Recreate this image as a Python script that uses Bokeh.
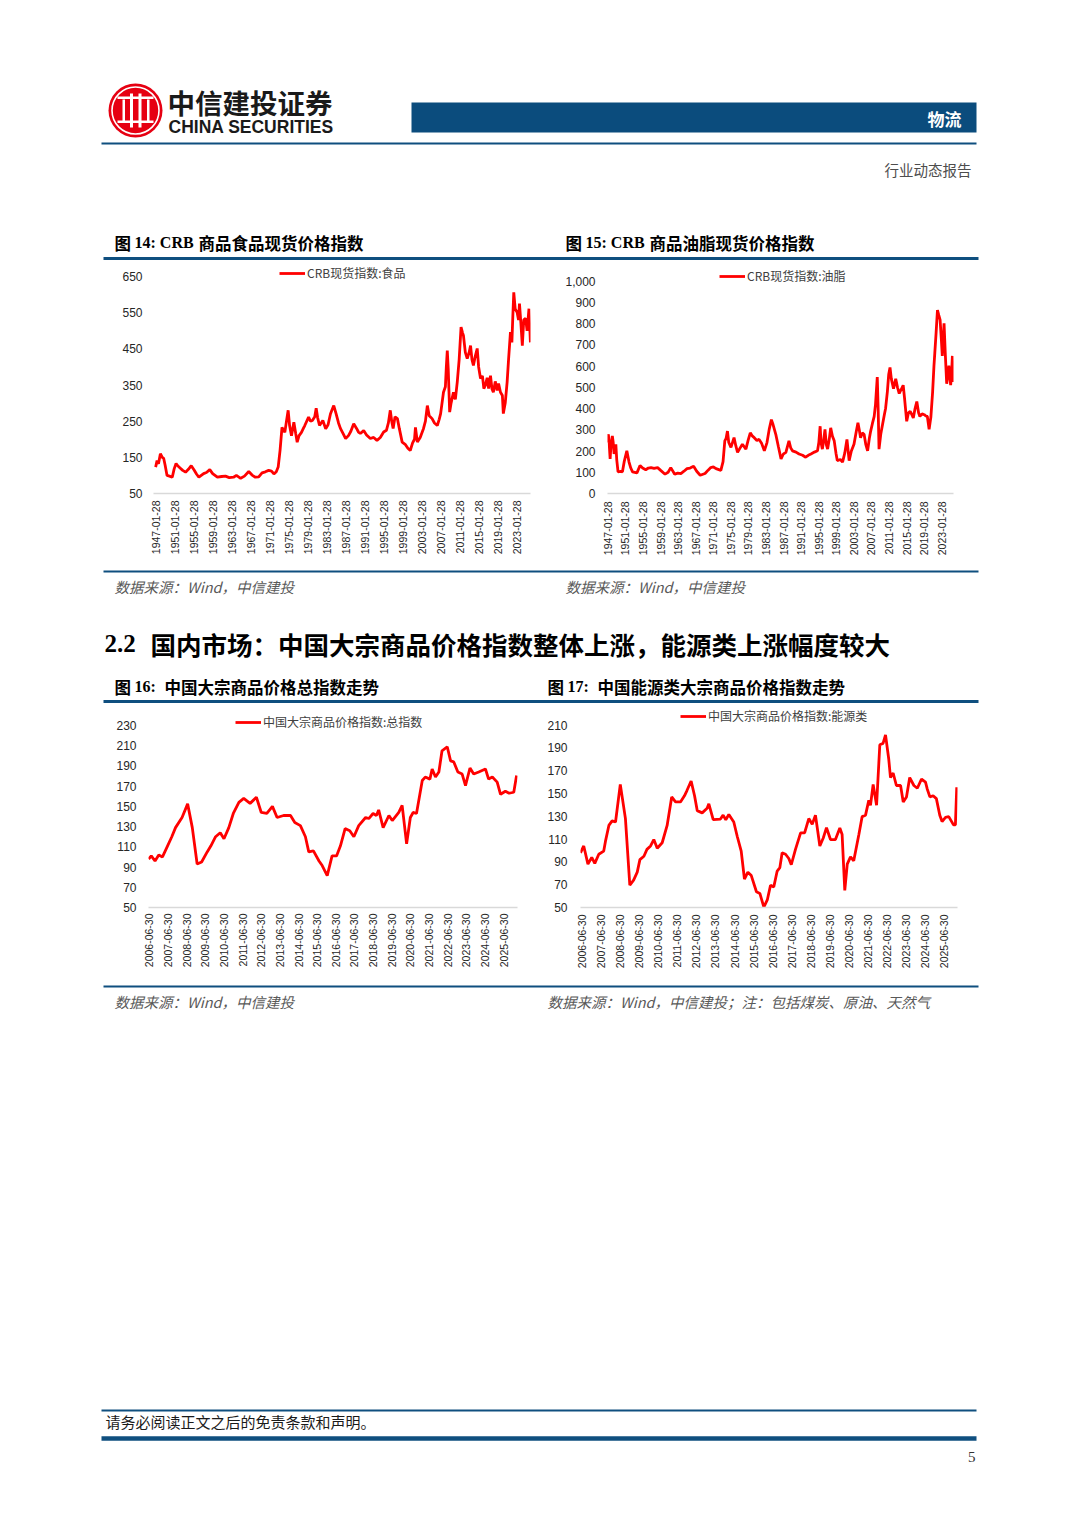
import math
from bokeh.plotting import figure
from bokeh.models import Range1d, FixedTicker, NumeralTickFormatter, Legend, LegendItem, ColumnDataSource
from bokeh.layouts import column, row
from bokeh.core.properties import value
from bokeh.embed import file_html
from bokeh.resources import INLINE

# ---------------- data ----------------
food_year = [1946.9, 1947.2, 1947.5, 1947.9, 1948.3, 1948.6, 1948.9, 1949.3, 1949.8, 1950.4, 1950.8, 1951.2,
             1951.6, 1952.1, 1952.6, 1953.2, 1953.8, 1954.4, 1955.0, 1955.5, 1956.0, 1956.5, 1957.0, 1957.6,
             1958.3, 1958.9, 1959.9, 1960.8, 1961.6, 1962.4, 1963.3, 1963.9, 1964.8, 1965.6, 1966.5, 1967.2,
             1967.9, 1968.6, 1969.3, 1970.0, 1970.7, 1971.3, 1971.8, 1972.3, 1972.7, 1973.1, 1973.5, 1973.8,
             1974.1, 1974.5, 1974.8, 1975.1, 1975.5, 1976.0, 1976.4, 1976.7, 1977.1, 1977.6, 1978.0, 1978.3,
             1979.1, 1979.5, 1979.9, 1980.4, 1980.7, 1981.0, 1981.4, 1982.1, 1982.7, 1983.2, 1983.7, 1984.0,
             1984.4, 1984.9, 1985.4, 1985.8, 1986.4, 1986.9, 1987.5, 1988.0, 1988.6, 1989.2, 1989.6, 1990.0,
             1990.7, 1991.3, 1992.1, 1992.8, 1993.5, 1994.2, 1994.9, 1995.5, 1995.9, 1996.3, 1996.6, 1996.9,
             1997.3, 1997.8, 1998.2, 1998.8, 1999.5, 2000.0, 2000.5, 2001.0, 2001.4, 2001.6, 2002.0, 2002.6,
             2003.3, 2003.7, 2004.1, 2004.5, 2005.1, 2005.6, 2006.2, 2006.6, 2006.9, 2007.5, 2007.9, 2008.1,
             2008.3, 2008.5, 2008.8, 2009.1, 2009.6, 2010.0, 2010.4, 2010.8, 2011.2, 2011.5, 2011.7, 2012.1,
             2012.5, 2012.9, 2013.2, 2013.5, 2013.8, 2014.2, 2014.6, 2014.9, 2015.3, 2015.7, 2016.0, 2016.3,
             2016.7, 2017.0, 2017.4, 2017.7, 2018.0, 2018.4, 2018.8, 2019.1, 2019.5, 2019.9, 2020.1, 2020.5,
             2020.9, 2021.2, 2021.6, 2021.9, 2022.1, 2022.3, 2022.6, 2023.0, 2023.3, 2023.5, 2023.8, 2024.1,
             2024.4, 2024.8, 2025.1, 2025.5, 2025.8]
food_value = [123, 141, 132, 160, 150, 147, 128, 100, 98, 95, 118, 133,
              126, 120, 114, 109, 117, 127, 115, 104, 95, 100, 105, 108,
              116, 105, 95, 97, 98, 94, 95, 100, 92, 98, 111, 101,
              95, 96, 107, 110, 114, 112, 104, 110, 123, 170, 233, 226,
              219, 255, 280, 238, 210, 247, 215, 192, 210, 219, 230, 238,
              261, 250, 252, 262, 286, 260, 238, 252, 229, 240, 270, 280,
              293, 270, 245, 230, 215, 202, 210, 222, 243, 230, 220, 216,
              224, 212, 202, 205, 197, 205, 220, 225, 245, 280, 250, 230,
              262, 257, 230, 192, 185, 175, 169, 190, 200, 233, 192, 205,
              230, 250, 293, 265, 257, 245, 238, 255, 271, 330, 345, 400,
              445, 395, 275, 300, 330, 310, 358, 420, 510, 495, 487, 440,
              423, 440, 459, 420, 404, 430, 451, 400, 368, 375, 340, 349,
              370, 340, 376, 340, 330, 360, 335, 354, 330, 321, 271, 300,
              358, 420, 496, 468, 540, 606, 560, 551, 530, 575, 520, 459,
              530, 534, 500, 561, 468]

oil_year = [1947.0, 1947.2, 1947.4, 1947.6, 1947.8, 1948.1, 1948.3, 1948.5, 1948.9, 1949.1, 1949.4, 1950.0,
            1950.4, 1950.8, 1951.4, 1951.9, 1952.3, 1952.7, 1953.7, 1954.4, 1955.0, 1955.7, 1956.3, 1956.9,
            1957.6, 1958.4, 1959.1, 1960.1, 1960.8, 1961.4, 1962.3, 1963.0, 1963.7, 1964.4, 1965.1, 1965.8,
            1966.6, 1967.3, 1968.1, 1969.2, 1969.9, 1970.5, 1971.1, 1971.7, 1972.8, 1973.3, 1973.7, 1974.0,
            1974.3, 1974.6, 1975.1, 1975.8, 1976.2, 1976.6, 1977.2, 1977.7, 1978.5, 1979.0, 1979.5, 1980.0,
            1980.4, 1981.0, 1981.5, 1982.1, 1982.7, 1983.3, 1983.8, 1984.3, 1984.6, 1985.3, 1985.9, 1986.5,
            1987.0, 1987.6, 1988.3, 1988.7, 1989.1, 1989.9, 1990.6, 1991.4, 1992.1, 1992.7, 1993.3, 1994.1,
            1994.8, 1995.1, 1995.4, 1995.6, 1995.9, 1996.2, 1996.5, 1996.8, 1997.1, 1997.5, 1997.8, 1998.2,
            1998.6, 1999.0, 1999.3, 2000.0, 2000.5, 2001.0, 2001.5, 2002.0, 2002.5, 2003.1, 2003.6, 2004.0,
            2004.3, 2004.6, 2005.0, 2005.4, 2005.8, 2006.2, 2006.6, 2006.9, 2007.3, 2007.7, 2008.0, 2008.4,
            2008.6, 2008.8, 2009.2, 2009.6, 2010.0, 2010.3, 2010.7, 2011.0, 2011.3, 2011.6, 2012.1, 2012.6,
            2013.0, 2013.4, 2014.3, 2014.6, 2015.1, 2015.5, 2015.9, 2016.3, 2016.6, 2017.0, 2017.4, 2017.8,
            2018.1, 2018.6, 2019.1, 2019.5, 2019.8, 2020.2, 2020.6, 2021.0, 2021.3, 2021.5, 2021.8, 2022.1,
            2022.4, 2022.7, 2023.0, 2023.2, 2023.6, 2023.9, 2024.2, 2024.5, 2024.7, 2025.1, 2025.3, 2025.5,
            2025.7]
oil_value = [240, 279, 230, 163, 230, 271, 240, 186, 232, 160, 102, 104,
             102, 150, 201, 148, 120, 102, 97, 132, 120, 112, 120, 122,
             118, 122, 109, 91, 100, 122, 91, 96, 94, 105, 117, 120,
             128, 105, 86, 94, 110, 122, 125, 117, 109, 150, 248, 260,
             294, 240, 217, 263, 225, 194, 215, 232, 209, 250, 286, 270,
             263, 250, 255, 235, 201, 240, 302, 348, 330, 279, 220, 163,
             185, 194, 248, 215, 201, 195, 186, 180, 171, 180, 186, 195,
             201, 240, 317, 240, 209, 250, 302, 230, 209, 260, 309, 270,
             248, 190, 155, 160, 148, 190, 255, 155, 200, 232, 290, 333,
             300, 263, 285, 279, 230, 201, 260, 294, 330, 363, 420, 548,
             400, 209, 280, 325, 370, 402, 480, 560, 594, 540, 494, 540,
             500, 471, 510, 450, 340, 380, 387, 370, 356, 400, 433, 380,
             363, 375, 371, 365, 363, 302, 360, 479, 600, 664, 760, 864,
             840, 818, 720, 648, 802, 650, 517, 560, 602, 510, 560, 648,
             525]

total_year = [2006.46, 2006.6, 2006.8, 2007.0, 2007.2, 2007.45, 2007.7, 2007.9, 2008.25, 2008.55, 2008.8,
              2009.06, 2009.3, 2009.6, 2009.8, 2010.05, 2010.3, 2010.5, 2010.76, 2011.0, 2011.3, 2011.56,
              2011.9, 2012.24, 2012.5, 2012.8, 2013.1, 2013.35, 2013.7, 2014.07, 2014.3, 2014.6, 2014.87,
              2015.05, 2015.3, 2015.6, 2015.77, 2016.04, 2016.3, 2016.54, 2016.75, 2017.0, 2017.25, 2017.47,
              2017.73, 2018.1, 2018.27, 2018.5, 2018.68, 2018.8, 2019.04, 2019.35, 2019.53, 2019.88, 2020.06,
              2020.3, 2020.5, 2020.65, 2020.83, 2021.14, 2021.3, 2021.55, 2021.67, 2021.85, 2022.03, 2022.2,
              2022.48, 2022.66, 2022.83, 2023.05, 2023.28, 2023.46, 2023.7, 2023.9, 2024.17, 2024.53, 2024.7,
              2024.9, 2025.16, 2025.34, 2025.6, 2025.8, 2026.05, 2026.2]
total_value = [98, 101, 96, 102, 100, 110, 120, 129, 139, 152.5, 129,
               93, 95, 105, 111, 120, 124, 118, 129, 143, 154, 158,
               153, 159, 144, 143, 150, 139, 141, 141, 134, 131, 120,
               105, 106, 96, 91.5, 81.6, 101, 101, 111, 128, 126, 120,
               131, 139, 138, 143, 141, 146.5, 129, 141, 136, 144, 151,
               113, 139, 144, 143, 175.6, 179, 177, 187, 179, 184, 205,
               209, 195, 194, 184, 182, 170.6, 188, 182, 184, 187, 177,
               179, 174, 162, 165, 163, 164, 180.5]

energy_year = [2006.41, 2006.58, 2006.8, 2007.0, 2007.16, 2007.37, 2007.63, 2007.72, 2007.9, 2008.07, 2008.25,
               2008.5, 2008.77, 2009.0, 2009.2, 2009.39, 2009.53, 2009.74, 2009.9, 2010.09, 2010.26, 2010.44,
               2010.7, 2010.96, 2011.2, 2011.4, 2011.66, 2011.87, 2012.0, 2012.22, 2012.4, 2012.54, 2012.8,
               2013.06, 2013.15, 2013.38, 2013.76, 2013.9, 2014.04, 2014.2, 2014.46, 2014.64, 2014.85, 2015.02,
               2015.2, 2015.38, 2015.65, 2015.83, 2016.04, 2016.22, 2016.39, 2016.56, 2016.74, 2016.88, 2017.0,
               2017.18, 2017.35, 2017.48, 2017.7, 2017.97, 2018.18, 2018.4, 2018.58, 2018.75, 2018.98, 2019.16,
               2019.33, 2019.54, 2019.8, 2020.03, 2020.15, 2020.29, 2020.42, 2020.59, 2020.76, 2021.03, 2021.2,
               2021.38, 2021.55, 2021.64, 2021.78, 2021.96, 2022.13, 2022.3, 2022.43, 2022.6, 2022.69, 2022.83,
               2023.0, 2023.22, 2023.36, 2023.53, 2023.7, 2023.92, 2024.1, 2024.32, 2024.53, 2024.62, 2024.76,
               2024.93, 2025.1, 2025.28, 2025.4, 2025.58, 2025.75, 2025.88, 2026.0, 2026.1, 2026.17]
energy_value = [98, 104, 88, 94, 88.7, 96.7, 99.5, 108, 122, 126, 125,
                158, 128, 69.5, 74, 81, 92, 95, 101, 104, 109.6, 102,
                106.8, 122, 147, 142.6, 142.6, 148, 152.6, 161, 148, 135, 133,
                137, 141, 127, 127.6, 131, 127, 131.6, 125, 112.5, 99.5, 75,
                81, 78, 63.8, 62.3, 50.3, 56.6, 69.5, 68, 82, 85, 98,
                96.7, 93, 87.5, 101, 115.4, 115.4, 128, 123, 131, 104, 111,
                120, 109.6, 109.6, 119.7, 114, 65, 88, 94.4, 91, 114, 129.7,
                131, 144, 139.7, 158, 139.7, 192.8, 194, 201.4, 180, 164, 168,
                157, 157, 142.6, 147, 164, 157, 154.6, 162.7, 160, 154, 147,
                148, 145.5, 131, 125.4, 129, 129.7, 126, 122.5, 122.5, 155.5]

crb_tick_labels = ["1947-01-28", "1951-01-28", "1955-01-28", "1959-01-28", "1963-01-28", "1967-01-28",
                   "1971-01-28", "1975-01-28", "1979-01-28", "1983-01-28", "1987-01-28", "1991-01-28",
                   "1995-01-28", "1999-01-28", "2003-01-28", "2007-01-28", "2011-01-28", "2015-01-28",
                   "2019-01-28", "2023-01-28"]
cn_tick_labels = ["2006-06-30", "2007-06-30", "2008-06-30", "2009-06-30", "2010-06-30", "2011-06-30",
                  "2012-06-30", "2013-06-30", "2014-06-30", "2015-06-30", "2016-06-30", "2017-06-30",
                  "2018-06-30", "2019-06-30", "2020-06-30", "2021-06-30", "2022-06-30", "2023-06-30",
                  "2024-06-30", "2025-06-30"]
food_yticks = [50, 150, 250, 350, 450, 550, 650]
oil_yticks = [0, 100, 200, 300, 400, 500, 600, 700, 800, 900, 1000]
total_yticks = [50, 70, 90, 110, 130, 150, 170, 190, 210, 230]
energy_yticks = [50, 70, 90, 110, 130, 150, 170, 190, 210]

food_label = "CRB现货指数:食品"
oil_label = "CRB现货指数:油脂"
total_label = "中国大宗商品价格指数:总指数"
energy_label = "中国大宗商品价格指数:能源类"

# ---------------- helpers ----------------
CJK = "Noto Sans CJK SC"
SANS = "Liberation Sans"
SERIF = "Liberation Serif"
BLUE = "#0f4f7f"
W = 1080


def date_pos(s):
    y, m, d = s.split("-")
    return round(int(y) + (int(m) - 1) / 12 + int(d) / 365, 3)


def deco(y0, y1):
    p = figure(width=W, height=y1 - y0, x_range=Range1d(0, W), y_range=Range1d(y1, y0),
               x_axis_type=None, y_axis_type=None, toolbar_location=None, output_backend="svg",
               min_border=0, min_border_left=0, min_border_right=0, min_border_top=0, min_border_bottom=0,
               outline_line_color=None, background_fill_color="white", border_fill_color="white")
    return p


def txt(p, x, y, s, size, color="#000000", font=CJK, style="normal", align="left"):
    p.text(x=[x], y=[y], text=[s], text_font=value(font), text_font_size=value(f"{size}px"),
           text_font_style=style, text_color=color, text_align=align, text_baseline="middle")


def hline(p, x0, x1, y, w, color=BLUE):
    p.segment(x0=[x0], y0=[y], x1=[x1], y1=[y], line_color=color, line_width=w)


def chart(xs, ys, xr, yr, yticks, tick_labels, h, bl, br, bt, bb, sy, sx, label, leg_loc, yfmt=None):
    p = figure(width=540, height=h, x_range=Range1d(*xr), y_range=Range1d(*yr), toolbar_location=None,
               output_backend="svg", min_border_left=bl, min_border_right=br, min_border_top=bt,
               min_border_bottom=bb, outline_line_color=None, background_fill_color="white",
               border_fill_color="white")
    p.xgrid.visible = False
    p.ygrid.visible = False
    src = ColumnDataSource(dict(x=xs, y=ys))
    r = p.line(x="x", y="y", source=src, line_color="#ff0000", line_width=2.8)
    tpos = [date_pos(s) for s in tick_labels]
    xa = p.xaxis[0]
    xa.ticker = FixedTicker(ticks=tpos)
    xa.major_label_overrides = dict(zip(tpos, tick_labels))
    xa.major_label_orientation = math.pi / 2
    xa.axis_line_color = "#d9d9d9"
    xa.axis_line_width = 1.5
    xa.major_tick_line_color = None
    xa.minor_tick_line_color = None
    xa.major_tick_out = 0
    xa.major_tick_in = 0
    xa.minor_tick_out = 0
    xa.major_label_standoff = sx
    xa.major_label_text_font = SANS
    xa.major_label_text_font_size = "10.5px"
    xa.major_label_text_color = "#262626"
    ya = p.yaxis[0]
    ya.ticker = FixedTicker(ticks=yticks)
    if yfmt:
        ya.formatter = NumeralTickFormatter(format=yfmt)
    ya.axis_line_color = None
    ya.major_tick_line_color = None
    ya.minor_tick_line_color = None
    ya.major_tick_out = 0
    ya.major_tick_in = 0
    ya.minor_tick_out = 0
    ya.major_label_standoff = sy
    ya.major_label_text_font = SANS
    ya.major_label_text_font_size = "12px"
    ya.major_label_text_color = "#262626"
    leg = Legend(items=[LegendItem(label=label, renderers=[r])], location=leg_loc, padding=0, margin=0,
                 spacing=0, glyph_width=26, glyph_height=14, label_height=14, label_standoff=2,
                 label_text_font=CJK, label_text_font_size="12px", label_text_color="#404040",
                 border_line_color=None, background_fill_alpha=0)
    p.add_layout(leg)
    return p


# ---------------- header band (page y 0..262) ----------------
ph = deco(0, 262)
ph.circle(x=[135], y=[110], radius=27, fill_color="#e60012", line_color=None)
ph.circle(x=[135], y=[110], radius=23.5, fill_color=None, line_color="white", line_width=1.6)
ph.quad(left=[122, 129.5, 138, 146.5], right=[124.5, 132.5, 141, 149],
        top=[99, 93, 93, 99], bottom=[121, 127, 127, 121], fill_color="white", line_color=None)
ph.quad(left=[117], right=[153], top=[96], bottom=[98.5], fill_color="white", line_color=None)
ph.quad(left=[117], right=[153], top=[120], bottom=[122.5], fill_color="white", line_color=None)
txt(ph, 167, 101, "中信建投证券", 27.5, "#1a1a1a", CJK, "bold")
txt(ph, 168, 126, "CHINA SECURITIES", 17.5, "#1a1a1a", SANS, "bold")
ph.quad(left=[411], right=[976], top=[102], bottom=[132], fill_color="#0b4c7d", line_color=None)
txt(ph, 961, 118, "物流", 17, "white", CJK, "bold", "right")
hline(ph, 101, 976, 143, 2)
txt(ph, 971, 169, "行业动态报告", 14.5, "#4d4d4d", CJK, "normal", "right")
txt(ph, 114, 242, "图", 16.5, "#000000", CJK, "bold")
txt(ph, 134, 242, "14: CRB", 16, "#000000", SERIF, "bold")
txt(ph, 198, 242, "商品食品现货价格指数", 16.5, "#000000", CJK, "bold")
txt(ph, 565, 242, "图", 16.5, "#000000", CJK, "bold")
txt(ph, 585, 242, "15: CRB", 16, "#000000", SERIF, "bold")
txt(ph, 649, 242, "商品油脂现货价格指数", 16.5, "#000000", CJK, "bold")
hline(ph, 103, 978, 258, 3)

# ---------------- charts 14 / 15 (page y 262..568) ----------------
p14 = chart(food_year, food_value, (1946.45, 2025.82), (50, 683.2), food_yticks, crb_tick_labels,
            306, 153, 10, 2, 75, 11, 7, food_label, (126, 212))
p15 = chart(oil_year, oil_value, (1947.0, 2025.75), (0, 1078.7), oil_yticks, crb_tick_labels,
            306, 67, 127, 2, 71, 12, 8, oil_label, (112, 209), "0,0")

# ---------------- middle band (page y 568..705) ----------------
pm = deco(568, 705)
hline(pm, 103, 978, 571, 2)
txt(pm, 114, 586, "数据来源：Wind，中信建投", 14.5, "#595959", CJK, "italic")
txt(pm, 565, 586, "数据来源：Wind，中信建投", 14.5, "#595959", CJK, "italic")
txt(pm, 104, 643, "2.2", 25, "#000000", SERIF, "bold")
txt(pm, 150, 643, "国内市场：中国大宗商品价格指数整体上涨，能源类上涨幅度较大", 25.5, "#000000", CJK, "bold")
txt(pm, 114, 686, "图", 16.5, "#000000", CJK, "bold")
txt(pm, 134, 686, "16:", 16, "#000000", SERIF, "bold")
txt(pm, 164, 686, "中国大宗商品价格总指数走势", 16.5, "#000000", CJK, "bold")
txt(pm, 547, 686, "图", 16.5, "#000000", CJK, "bold")
txt(pm, 567, 686, "17:", 16, "#000000", SERIF, "bold")
txt(pm, 597, 686, "中国能源类大宗商品价格指数走势", 16.5, "#000000", CJK, "bold")
hline(pm, 103, 978, 701, 3)

# ---------------- charts 16 / 17 (page y 705..984) ----------------
p16 = chart(total_year, total_value, (2006.45, 2026.25), (50, 249.8), total_yticks, cn_tick_labels,
            279, 148, 23, 0, 77, 12, 6, total_label, (87, 177))
p17 = chart(energy_year, energy_value, (2006.41, 2026.21), (50, 227.2), energy_yticks, cn_tick_labels,
            279, 40, 123, 0, 73, 13, 7, energy_label, (100, 183))

# ---------------- footer band (page y 984..1528) ----------------
pf = deco(984, 1528)
hline(pf, 103, 978, 986, 2)
txt(pf, 114, 1001, "数据来源：Wind，中信建投", 14.5, "#595959", CJK, "italic")
txt(pf, 547, 1001, "数据来源：Wind，中信建投；注：包括煤炭、原油、天然气", 14.5, "#595959", CJK, "italic")
hline(pf, 101, 976, 1410, 2)
txt(pf, 105, 1421, "请务必阅读正文之后的免责条款和声明。", 15, "#1a1a1a", CJK, "normal")
hline(pf, 101, 976, 1438, 4.5)
txt(pf, 975, 1456, "5", 15, "#333333", SERIF, "normal", "right")

layout = column(ph, row(p14, p15, spacing=0), pm, row(p16, p17, spacing=0), pf, spacing=0)

open("out.html", "w").write(file_html(layout, INLINE))
